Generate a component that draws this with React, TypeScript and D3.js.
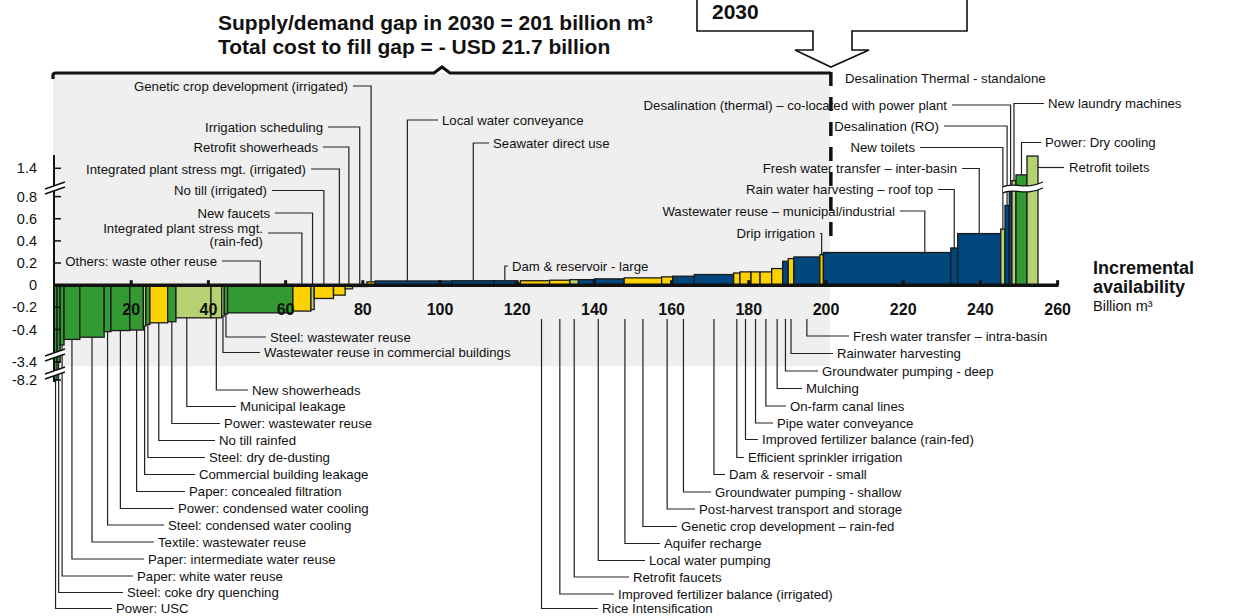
import React from "react";
import * as d3 from "d3";

// ---------- DATA ----------
const names: string[] = [
  "Power: USC",
  "Steel: coke dry quenching",
  "Paper: white water reuse",
  "Paper: intermediate water reuse",
  "Textile: wastewater reuse",
  "Steel: condensed water cooling",
  "Power: condensed water cooling",
  "Paper: concealed filtration",
  "Commercial building leakage",
  "Steel: dry de-dusting",
  "No till rainfed",
  "Power: wastewater reuse",
  "Municipal leakage",
  "New showerheads",
  "Wastewater reuse in commercial buildings",
  "Steel: wastewater reuse",
  "Others: waste other reuse",
  "Integrated plant stress mgt. (rain-fed)",
  "New faucets",
  "No till (irrigated)",
  "Integrated plant stress mgt. (irrigated)",
  "Retrofit showerheads",
  "Irrigation scheduling",
  "Genetic crop development (irrigated)",
  "Local water conveyance",
  "",
  "Seawater direct use",
  "Dam & reservoir - large",
  "",
  "Rice Intensification",
  "Improved fertilizer balance (irrigated)",
  "Retrofit faucets",
  "Local water pumping",
  "Aquifer recharge",
  "Genetic crop development – rain-fed",
  "Post-harvest transport and storage",
  "Groundwater pumping - shallow",
  "Dam & reservoir - small",
  "Efficient sprinkler irrigation",
  "Improved fertilizer balance (rain-fed)",
  "Pipe water conveyance",
  "On-farm canal lines",
  "Mulching",
  "Groundwater pumping - deep",
  "Rainwater harvesting",
  "Fresh water transfer – intra-basin",
  "Drip irrigation",
  "Wastewater reuse – municipal/industrial",
  "Rain water harvesting – roof top",
  "Fresh water transfer – inter-basin",
  "New toilets",
  "Desalination (RO)",
  "Desalination (thermal) – co-located with power plant",
  "New laundry machines",
  "Power: Dry cooling",
  "Retrofit toilets",
];

// incremental availability, billion m3
const volumes: number[] = [
  0.8, 0.8, 1.0, 4.1, 6.3, 1.75, 4.9, 3.5, 0.65, 1.05,
  4.6, 2.15, 9.07, 2.77, 0.67, 0.88, 16.9, 4.66, 0.86, 5.0,
  3.03, 1.9, 3.73, 2.15, 16.65, 3.3, 10.9, 5.45, 1.3, 7.6,
  5.25, 2.2, 4.15, 7.7, 9.7, 2.85, 5.6, 10.2, 1.65, 2.85,
  2.35, 3.0, 2.85, 1.45, 1.45, 6.75, 0.9, 33.0, 1.8, 11.15,
  1.1, 1.1, 0.7, 1.05, 2.85, 2.85,
];

// cost, USD per m3
const costs: number[] = [
  -8.2, -3.4, -0.54, -0.49, -0.47, -0.42, -0.41, -0.405, -0.37, -0.355,
  -0.34, -0.33, -0.295, -0.295, -0.28, -0.26, -0.25, -0.234, -0.22, -0.12,
  -0.09, -0.033, -0.012, 0.03, 0.038, 0.038, 0.04, 0.04, 0.02, 0.04,
  0.045, 0.05, 0.05, 0.057, 0.066, 0.075, 0.081, 0.096, 0.11, 0.12,
  0.12, 0.12, 0.15, 0.216, 0.24, 0.255, 0.276, 0.295, 0.336, 0.466,
  0.507, 0.72, 0.9, 1.14, 1.26, 1.66,
];

// I = industry, M = municipal, A = agriculture, S = supply
const sectors: string[] = [
  "I", "I", "I", "I", "I", "I", "I", "I", "M", "I",
  "A", "I", "M", "M", "M", "I", "I", "A", "M", "A",
  "A", "M", "A", "A", "S", "S", "S", "S", "S", "A",
  "A", "M", "S", "S", "A", "A", "S", "S", "A", "A",
  "A", "A", "A", "S", "A", "S", "A", "S", "S", "S",
  "M", "S", "S", "M", "I", "M",
];

const yTicks: number[] = [1.4, 0.8, 0.6, 0.4, 0.2, 0, -0.2, -0.4, -3.4, -8.2];
const xTicks: number[] = [20, 40, 60, 80, 100, 120, 140, 160, 180, 200, 220, 240, 260];

const titleLines: string[] = [
  "Supply/demand gap in 2030 = 201 billion m³",
  "Total cost to fill gap = - USD 21.7 billion",
];

// ---------- STYLE / LAYOUT ----------
const COLORS: Record<string, string> = {
  I: "#339a33",
  M: "#b6d171",
  A: "#fcd200",
  S: "#00477e",
};
const FONT = "'Liberation Sans', Arial, Helvetica, sans-serif";
const LABEL_SIZE = 13.2;

type Lab = { n: string; tx: number; ty: number; k: "TR" | "TL" | "B" | "S"; at?: number };

const LAYOUT: Lab[] = [
  { n: "Genetic crop development (irrigated)", tx: 348, ty: 86, k: "TR" },
  { n: "Irrigation scheduling", tx: 323, ty: 127, k: "TR" },
  { n: "Retrofit showerheads", tx: 318, ty: 147, k: "TR" },
  { n: "Integrated plant stress mgt. (irrigated)", tx: 306, ty: 169, k: "TR" },
  { n: "No till (irrigated)", tx: 267, ty: 190.5, k: "TR" },
  { n: "New faucets", tx: 270, ty: 213, k: "TR" },
  { n: "Integrated plant stress mgt. (rain-fed)", tx: 263, ty: 233, k: "TR" },
  { n: "Others: waste other reuse", tx: 217, ty: 261, k: "TR" },
  { n: "Local water conveyance", tx: 442, ty: 120, k: "TL" },
  { n: "Seawater direct use", tx: 493, ty: 143, k: "TL" },
  { n: "Dam & reservoir - large", tx: 512, ty: 266, k: "TL" },
  { n: "Desalination (thermal) – co-located with power plant", tx: 947, ty: 105, k: "TR" },
  { n: "Desalination (RO)", tx: 939, ty: 126, k: "TR" },
  { n: "New toilets", tx: 915, ty: 147.5, k: "TR" },
  { n: "Fresh water transfer – inter-basin", tx: 957, ty: 168.5, k: "TR" },
  { n: "Rain water harvesting – roof top", tx: 933, ty: 189.5, k: "TR" },
  { n: "Wastewater reuse – municipal/industrial", tx: 895, ty: 211, k: "TR", at: 225.6 },
  { n: "Drip irrigation", tx: 815, ty: 233.5, k: "TR" },
  { n: "New laundry machines", tx: 1048, ty: 103.5, k: "TL" },
  { n: "Power: Dry cooling", tx: 1045, ty: 142.5, k: "TL" },
  { n: "Retrofit toilets", tx: 1069, ty: 167.5, k: "S" },
  { n: "Steel: wastewater reuse", tx: 270, ty: 337, k: "B" },
  { n: "Wastewater reuse in commercial buildings", tx: 264, ty: 352.5, k: "B" },
  { n: "New showerheads", tx: 252, ty: 390, k: "B" },
  { n: "Municipal leakage", tx: 240, ty: 406.5, k: "B", at: 34.4 },
  { n: "Power: wastewater reuse", tx: 224, ty: 423.5, k: "B" },
  { n: "No till rainfed", tx: 219, ty: 440.5, k: "B" },
  { n: "Steel: dry de-dusting", tx: 209, ty: 457.5, k: "B" },
  { n: "Commercial building leakage", tx: 199, ty: 474.5, k: "B" },
  { n: "Paper: concealed filtration", tx: 189, ty: 491.5, k: "B" },
  { n: "Power: condensed water cooling", tx: 178, ty: 508.5, k: "B" },
  { n: "Steel: condensed water cooling", tx: 168, ty: 525, k: "B" },
  { n: "Textile: wastewater reuse", tx: 158, ty: 542, k: "B" },
  { n: "Paper: intermediate water reuse", tx: 148, ty: 559, k: "B" },
  { n: "Paper: white water reuse", tx: 137, ty: 576, k: "B" },
  { n: "Steel: coke dry quenching", tx: 127, ty: 592.5, k: "B" },
  { n: "Power: USC", tx: 116, ty: 608.5, k: "B" },
  { n: "Rice Intensification", tx: 602, ty: 608.5, k: "B", at: 126.3 },
  { n: "Improved fertilizer balance (irrigated)", tx: 618, ty: 594, k: "B" },
  { n: "Retrofit faucets", tx: 633, ty: 577, k: "B" },
  { n: "Local water pumping", tx: 649, ty: 560.5, k: "B", at: 141.0 },
  { n: "Aquifer recharge", tx: 664, ty: 543.5, k: "B", at: 147.9 },
  { n: "Genetic crop development – rain-fed", tx: 681, ty: 526.5, k: "B" },
  { n: "Post-harvest transport and storage", tx: 699, ty: 509, k: "B" },
  { n: "Groundwater pumping - shallow", tx: 715, ty: 492, k: "B" },
  { n: "Dam & reservoir - small", tx: 729, ty: 474.5, k: "B" },
  { n: "Efficient sprinkler irrigation", tx: 748, ty: 457.5, k: "B" },
  { n: "Improved fertilizer balance (rain-fed)", tx: 762, ty: 439.5, k: "B" },
  { n: "Pipe water conveyance", tx: 777, ty: 423, k: "B" },
  { n: "On-farm canal lines", tx: 790, ty: 406, k: "B" },
  { n: "Mulching", tx: 806, ty: 388.5, k: "B" },
  { n: "Groundwater pumping - deep", tx: 822, ty: 371, k: "B" },
  { n: "Rainwater harvesting", tx: 837, ty: 353.5, k: "B" },
  { n: "Fresh water transfer – intra-basin", tx: 853, ty: 336, k: "B" },
];

const SPLIT: Record<string, string[]> = {
  "Integrated plant stress mgt. (rain-fed)": ["Integrated plant stress mgt.", "(rain-fed)"],
};

export default function App() {
  const x = d3.scaleLinear().domain([0, 260]).range([54, 1057.6]);
  const y = d3
    .scaleLinear()
    .domain([-8.2, -3.4, -0.6, 0.8, 1.4])
    .range([380, 362, 351.6, 196.6, 168.3]);

  const cum = Array.from(d3.cumsum(volumes));
  const bars = names.map((n, i) => {
    const x0 = cum[i] - volumes[i];
    const x1 = cum[i];
    return { n, x0, x1, c: costs[i], s: sectors[i] };
  });
  const byName = new Map(bars.filter((b) => b.n).map((b) => [b.n, b]));
  const y0 = y(0);
  const supplyX = x(201);

  const labelEls: React.ReactNode[] = [];
  LAYOUT.forEach((l, i) => {
    const b = byName.get(l.n);
    if (!b) return;
    const bx = x(l.at !== undefined ? l.at : (b.x0 + b.x1) / 2);
    const top = y(Math.max(b.c, 0));
    const bottom = b.c < 0 ? y(b.c) : 319;
    let d = "";
    let anchor: "start" | "end" = "start";
    if (l.k === "TR") {
      d = `M${l.tx + 5},${l.ty}H${bx}V${top}`;
      anchor = "end";
    } else if (l.k === "TL") {
      d = `M${bx},${top}V${l.ty}H${l.tx - 4}`;
    } else if (l.k === "B") {
      d = `M${bx},${bottom}V${l.ty}H${l.tx - 4}`;
    } else {
      d = `M${x(b.x1)},${l.ty}H${l.tx - 5}`;
    }
    const lines = SPLIT[l.n];
    labelEls.push(
      <g key={"lab" + i}>
        <path d={d} fill="none" stroke="#222" strokeWidth={1.2} />
        {lines ? (
          lines.map((t, j) => (
            <text key={j} x={l.tx} y={l.ty - 5 + j * 13.5} dy="0.35em" textAnchor={anchor} fontSize={LABEL_SIZE} fill="#111">
              {t}
            </text>
          ))
        ) : (
          <text x={l.tx} y={l.ty} dy="0.35em" textAnchor={anchor} fontSize={LABEL_SIZE} fill="#111">
            {l.n}
          </text>
        )}
      </g>
    );
  });

  const yBreaks = [186, 353, 371];

  return (
    <svg
      width={1245}
      height={616}
      style={{ position: "absolute", left: 0, top: 0, background: "#fff" }}
      fontFamily={FONT}
    >
      {/* gray panel */}
      <rect x={53} y={73} width={supplyX - 53} height={366 - 73} fill="#efefef" />

      {/* title */}
      {titleLines.map((t, i) => (
        <text key={i} x={218} y={30 + i * 24} fontSize={21} fontWeight="bold" fill="#111">
          {t}
        </text>
      ))}

      {/* callout box with arrow */}
      <path
        d={`M697,-5V31H813V50H795L${supplyX + 1},67L869,50H852V31H967V-5`}
        fill="#fff"
        stroke="#111"
        strokeWidth={1.6}
      />
      <text x={712} y={18.5} fontSize={21} fontWeight="bold" fill="#111">
        2030
      </text>

      {/* bracket */}
      <path
        d={`M53,79V75Q53,73 56,73H434L442,67L450,73H${supplyX + 1}`}
        fill="none"
        stroke="#111"
        strokeWidth={3.2}
      />
      <line
        x1={supplyX + 1}
        x2={supplyX + 1}
        y1={72}
        y2={240}
        stroke="#111"
        strokeWidth={3.5}
        strokeDasharray="14 11"
      />
      <text x={845} y={78} dy="0.35em" fontSize={LABEL_SIZE} fill="#111">
        Desalination Thermal - standalone
      </text>

      {/* leaders + labels */}
      {labelEls}

      {/* bars */}
      {bars.map((b, i) => (
        <rect
          key={"bar" + i}
          x={x(b.x0)}
          width={x(b.x1) - x(b.x0)}
          y={Math.min(y(b.c), y0)}
          height={Math.abs(y(b.c) - y0)}
          fill={COLORS[b.s]}
          stroke="#1a1a1a"
          strokeWidth={1.3}
        />
      ))}

      {/* right break on tall bars */}
      <path
        d="M1003,187 C1013,181 1024,191 1043,182 L1043,188 C1024,197 1013,187 1003,193 Z"
        fill="#fff"
      />
      <path d="M1003,187 C1013,181 1024,191 1043,182" fill="none" stroke="#111" strokeWidth={1.3} />
      <path d="M1003,193 C1013,187 1024,197 1043,188" fill="none" stroke="#111" strokeWidth={1.3} />

      {/* x axis */}
      <line x1={53} x2={x(260) + 1} y1={y0} y2={y0} stroke="#111" strokeWidth={3.5} />
      {xTicks.map((t) => (
        <g key={"xt" + t}>
          <rect x={x(t) - 1.5} y={y0 - 5} width={3} height={5} fill="#111" />
          <text x={x(t)} y={315} textAnchor="middle" fontSize={16} fontWeight="bold" fill="#111">
            {t}
          </text>
        </g>
      ))}

      {/* y axis */}
      <line x1={54} x2={54} y1={155} y2={382} stroke="#111" strokeWidth={2} />
      {yTicks.map((t) => (
        <g key={"yt" + t}>
          <line x1={54} x2={61} y1={y(t)} y2={y(t)} stroke="#111" strokeWidth={1.5} />
          <text x={37} y={y(t)} dy="0.35em" textAnchor="end" fontSize={14.5} fill="#111">
            {t}
          </text>
        </g>
      ))}
      {yBreaks.map((by, i) => (
        <g key={"yb" + i}>
          <path d={`M45,${by + 3}L65,${by - 4}L65,${by + 1}L45,${by + 8}Z`} fill="#fff" />
          <line x1={45} y1={by + 3} x2={65} y2={by - 4} stroke="#111" strokeWidth={1.4} />
          <line x1={45} y1={by + 8} x2={65} y2={by + 1} stroke="#111" strokeWidth={1.4} />
        </g>
      ))}

      {/* axis title */}
      <text x={1093} y={274} fontSize={18} fontWeight="bold" fill="#111">
        Incremental
      </text>
      <text x={1093} y={293} fontSize={18} fontWeight="bold" fill="#111">
        availability
      </text>
      <text x={1093} y={311} fontSize={14.5} fill="#111">
        Billion m³
      </text>
    </svg>
  );
}
